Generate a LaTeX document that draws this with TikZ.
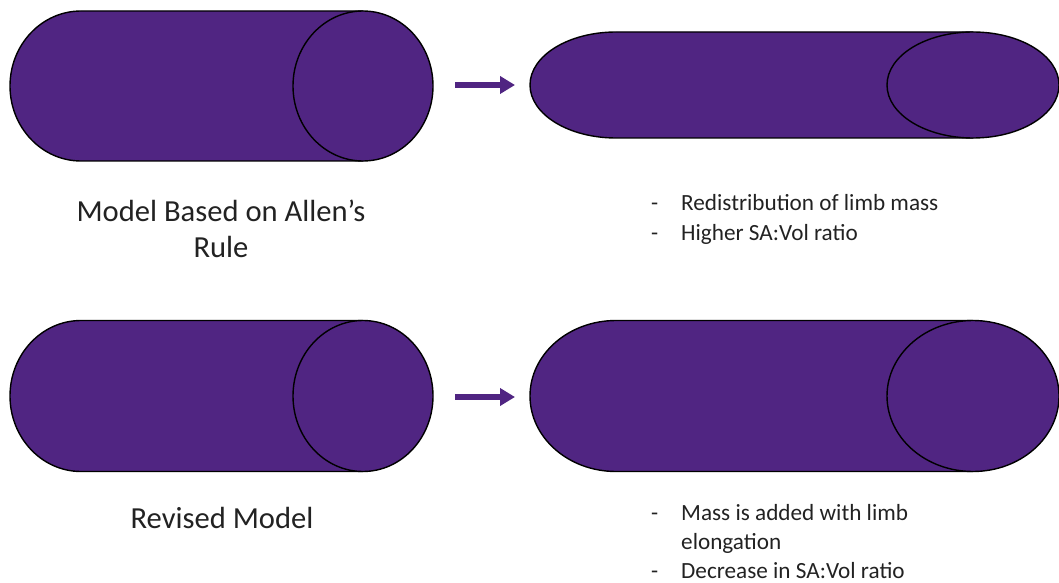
\documentclass[tikz,border=0pt]{standalone}
\usepackage{fontspec}
\setmainfont{Carlito}
\usetikzlibrary{arrows.meta}
\definecolor{limb}{HTML}{502582}
\definecolor{txt}{HTML}{222222}
\tikzset{
  limbbody/.style={fill=limb,draw=black,line width=1.4pt,line join=round},
  pointer/.style={draw=limb,line width=6pt,-{Triangle[length=15pt,width=17pt]}},
  bigtext/.style={font=\fontsize{30.6}{36}\selectfont,text=txt,inner sep=0pt,anchor=base},
  smalltext/.style={font=\fontsize{23.2}{28}\selectfont,text=txt,inner sep=0pt,anchor=base west},
}
\newcommand{\limbshape}[6]{% xl, rxl, xc, rx, cy, ry
  \path[limbbody] (#3,#5+#6) -- (#1+#2,#5+#6) arc[start angle=90,end angle=270,x radius=#2,y radius=#6] -- (#3,#5-#6) -- cycle;
  \path[limbbody] (#3,#5) ellipse[x radius=#4,y radius=#6];
}
\begin{document}
\begin{tikzpicture}[x=1pt,y=1pt]
\useasboundingbox (0,0) rectangle (1059,582);
% cylinders
\limbshape{10}{71}{363}{70}{496}{75}
\limbshape{530}{86}{973}{86}{497}{53}
\limbshape{10}{71}{363}{70}{186}{75.5}
\limbshape{530}{86}{973}{86}{186}{75.5}
% arrows
\coordinate (a1s) at (455,497);
\coordinate (a1e) at (515,497);
\coordinate (a2s) at (455,185);
\coordinate (a2e) at (515,185);
\draw[pointer] (a1s) -- (a1e);
\draw[pointer] (a2s) -- (a2e);
% captions
\node[bigtext] (t1) at (221,361) {Model Based on Allen’s};
\node[bigtext] (t2) at (221,325) {Rule};
\node[bigtext] (t3) at (222,54) {Revised Model};
% bullets top
\node[smalltext] (d1) at (651,372) {-};
\node[smalltext] (b1) at (681,372) {Redistribution of limb mass};
\node[smalltext] (d2) at (651,342) {-};
\node[smalltext] (b2) at (681,342) {Higher SA:Vol ratio};
% bullets bottom
\node[smalltext] (d3) at (651,62) {-};
\node[smalltext] (b3) at (681,62) {Mass is added with limb};
\node[smalltext] (b4) at (681,33) {elongation};
\node[smalltext] (d4) at (651,4) {-};
\node[smalltext] (b5) at (681,4) {Decrease in SA:Vol ratio};
\end{tikzpicture}
\end{document}
